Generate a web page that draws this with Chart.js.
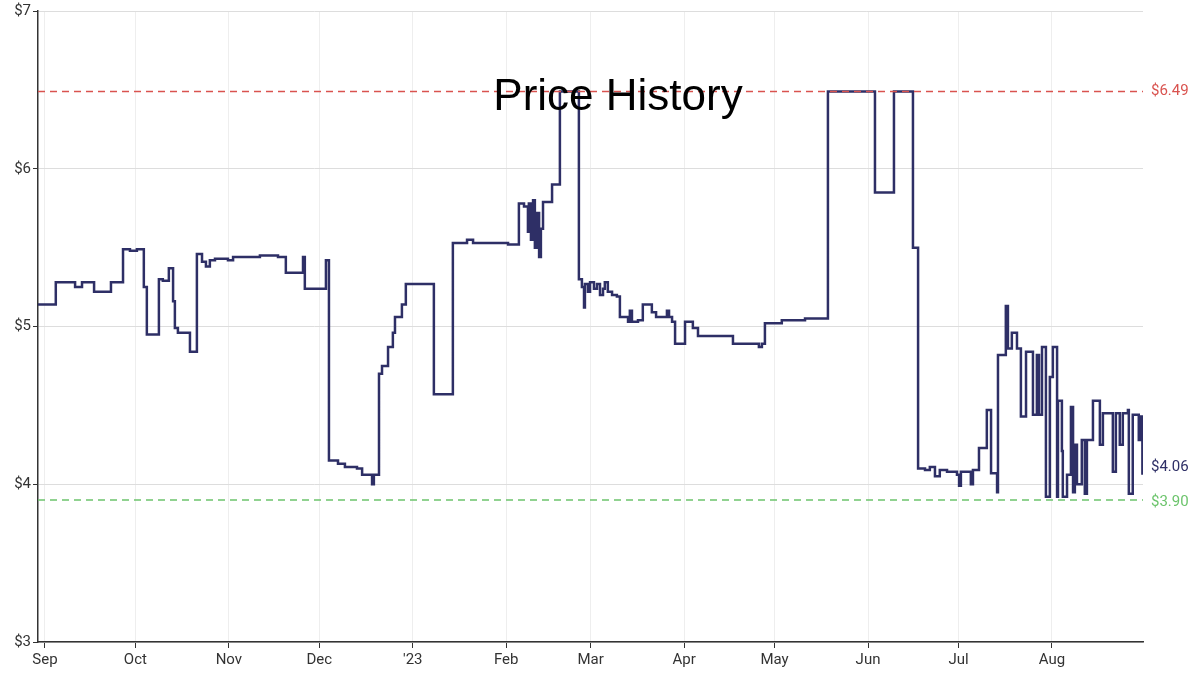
<!DOCTYPE html>
<html><head><meta charset="utf-8">
<script src="https://cdn.jsdelivr.net/npm/chart.js@4/dist/chart.umd.min.js"></script>
<style>html,body{margin:0;padding:0;background:#fff}#wrap{width:1200px;height:681px}</style>
</head><body><div id="wrap"><canvas id="c"></canvas></div>
<script>
// day offsets from 2022-09-01
const days = [-2.3,3.6,10,12.3,16.3,21.9,25.9,28.2,30.5,32.8,33.8,37.8,39.1,41.1,42.5,43.1,44.1,48.1,50.4,52.1,53.4,54.7,56.4,60.7,62.4,71.3,77.3,79.9,85.6,86.2,93.2,94.2,97.2,99.5,103.5,105.2,108.5,109.1,110.8,111.8,113.8,115.4,116.1,118.4,119.7,129.0,135.3,140.0,142.0,153.6,157.2,158.9,160.2,160.5,161.2,161.9,162.5,163.2,163.9,164.5,165.2,168.2,170.8,177.1,178.1,178.8,179.1,180.1,180.8,182.1,183.1,184.1,185.1,185.7,186.7,188.1,189.7,190.7,193.4,194.0,194.7,196.7,198.3,201.3,202.7,206.3,207.0,208.0,209.0,212.3,214.9,216.6,228.2,236.8,237.8,238.8,244.4,252.1,259.7,275.3,281.6,287.9,289.6,291.9,293.5,295.2,296.8,299.2,302.5,303.2,303.8,307.1,307.8,309.8,312.4,313.8,315.8,316.1,318.7,319.4,320.7,322.4,323.7,325.4,327.7,329.0,329.7,330.7,332.0,333.3,334.3,335.7,336.0,337.3,337.6,339.0,340.3,341.0,341.6,342.3,343.9,344.9,345.6,347.6,349.9,350.9,354.2,355.2,356.5,357.5,359.2,359.5,360.8,362.8,363.5,364.0];
const prices = [5.14,5.28,5.25,5.28,5.22,5.28,5.49,5.48,5.49,5.25,4.95,5.30,5.29,5.37,5.16,4.99,4.96,4.84,5.46,5.41,5.38,5.42,5.43,5.42,5.44,5.45,5.44,5.34,5.44,5.24,5.42,4.15,4.13,4.11,4.10,4.06,4.00,4.06,4.70,4.75,4.87,4.96,5.06,5.14,5.27,4.57,5.53,5.55,5.53,5.52,5.78,5.76,5.60,5.78,5.55,5.80,5.50,5.72,5.44,5.62,5.79,5.90,6.49,5.30,5.25,5.12,5.27,5.22,5.28,5.24,5.27,5.20,5.24,5.28,5.22,5.20,5.19,5.06,5.03,5.10,5.03,5.04,5.14,5.09,5.06,5.10,5.06,5.03,4.89,5.03,4.99,4.94,4.89,4.87,4.89,5.02,5.04,5.05,6.49,5.85,6.49,5.50,4.10,4.09,4.11,4.05,4.09,4.08,4.06,3.99,4.08,4.00,4.09,4.23,4.47,4.07,3.95,4.82,5.13,4.86,4.96,4.86,4.43,4.84,4.44,4.82,4.44,4.87,3.92,4.68,4.87,3.92,4.53,4.21,3.92,4.06,4.49,3.95,4.25,4.00,4.28,3.94,4.28,4.53,4.25,4.45,4.08,4.45,4.25,4.45,4.47,3.94,4.44,4.28,4.43,4.06];
const tickDays = [0,30,61,91,122,153,181,212,242,273,303,334];
const tickLabels = ['Sep','Oct','Nov','Dec',"'23",'Feb','Mar','Apr','May','Jun','Jul','Aug'];
const yTicks = [3,4,5,6,7];
const highPrice = 6.49, lowPrice = 3.90, lastPrice = 4.06;

const pts = days.map((d,i)=>({x:d,y:prices[i]}));

const overlay = {
  id:'overlay',
  afterDatasetsDraw(chart){
    const {ctx, chartArea:a, scales:{y}} = chart;
    ctx.save();
    const lines = [[highPrice,'#d9534f'],[lowPrice,'#6cc46c']];
    ctx.lineWidth = 1.5; ctx.setLineDash([7,5]);
    lines.forEach(([v,c])=>{
      const py = y.getPixelForValue(v);
      ctx.strokeStyle=c; ctx.beginPath(); ctx.moveTo(a.left,py); ctx.lineTo(a.right,py); ctx.stroke();
    });
    ctx.setLineDash([]);
    ctx.font = '15px Roboto'; ctx.textBaseline='middle'; ctx.textAlign='left';
    ctx.fillStyle='#d9534f'; ctx.fillText('$'+highPrice.toFixed(2), a.right+8, y.getPixelForValue(highPrice));
    ctx.fillStyle='#6cc46c'; ctx.fillText('$'+lowPrice.toFixed(2), a.right+8, y.getPixelForValue(lowPrice)+2);
    ctx.fillStyle='#2e2f66'; ctx.fillText('$'+lastPrice.toFixed(2), a.right+8, y.getPixelForValue(lastPrice)-8);
    ctx.font = '44px "Liberation Sans", Arial'; ctx.textAlign='center'; ctx.fillStyle='#000';
    ctx.fillText('Price History', 618, 98);
    ctx.restore();
  }
};

new Chart(document.getElementById('c'), {
  type:'line',
  data:{datasets:[{data:pts, stepped:true, borderColor:'#2e2f66', borderWidth:2.5, pointRadius:0, fill:false}]},
  options:{
    responsive:true, maintainAspectRatio:false, animation:false,
    layout:{padding:{top:10,right:57,left:0,bottom:0}},
    plugins:{legend:{display:false}, tooltip:{enabled:false}},
    scales:{
      x:{type:'linear', min:-2.3, max:364.2,
        afterBuildTicks(s){ s.ticks = tickDays.map(v=>({value:v})); },
        afterFit(s){ s.height = 39; },
        ticks:{autoSkip:false, maxRotation:0, color:'#333', font:{family:'Roboto',size:15},
          callback:(v)=>{const i=tickDays.indexOf(v); return i>=0?tickLabels[i]:'';}},
        grid:{color:'#eeeeee', tickColor:'#333', tickLength:6, drawTicks:true},
        border:{color:'#333', width:1.5}},
      y:{min:3, max:7,
        afterBuildTicks(s){ s.ticks = yTicks.map(v=>({value:v})); },
        afterFit(s){ s.width = 38; },
        ticks:{color:'#333', font:{family:'Roboto',size:15}, padding:2, callback:v=>'$'+v},
        grid:{color:'#dddddd', tickColor:'#333', tickLength:5},
        border:{color:'#333', width:1.5}}
    }
  },
  plugins:[overlay]
});
</script></body></html>
